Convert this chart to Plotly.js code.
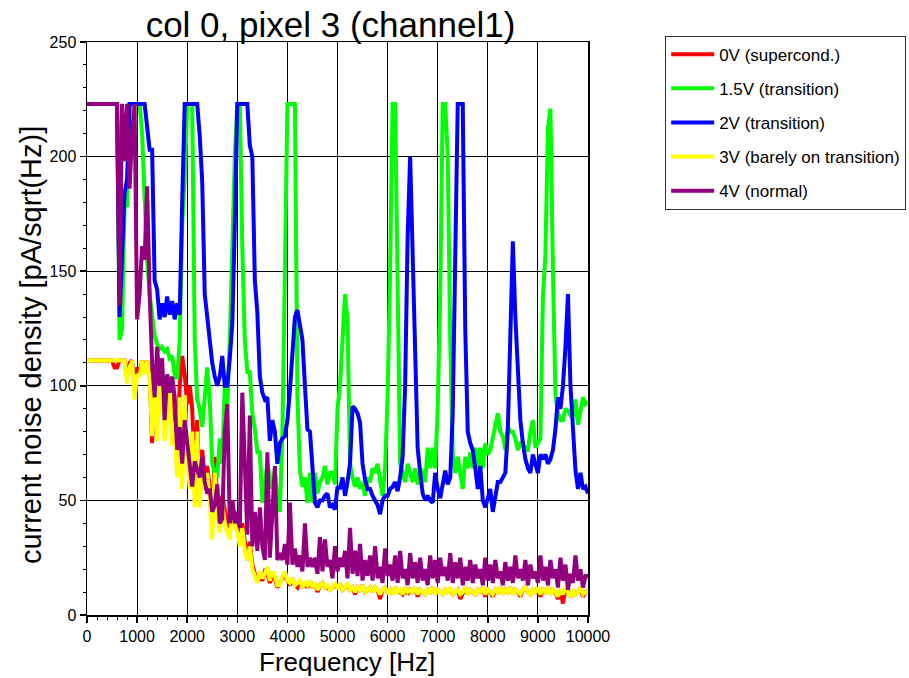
<!DOCTYPE html>
<html>
<head>
<meta charset="utf-8">
<script src="https://cdn.plot.ly/plotly-3.0.1.min.js"></script>
<style>html,body{margin:0;padding:0;background:#fff;}#chart{width:909px;height:678px;}</style>
</head>
<body>
<div id="chart"></div>
<script>
const freq = [
0,50,100,150,200,250,300,350,400,450,
500,550,600,650,700,750,800,850,900,950,
1000,1050,1100,1150,1200,1250,1300,1350,1400,1450,
1500,1550,1600,1650,1700,1750,1800,1850,1900,1950,
2000,2050,2100,2150,2200,2250,2300,2350,2400,2450,
2500,2550,2600,2650,2700,2750,2800,2850,2900,2950,
3000,3050,3100,3150,3200,3250,3300,3350,3400,3450,
3500,3550,3600,3650,3700,3750,3800,3850,3900,3950,
4000,4050,4100,4150,4200,4250,4300,4350,4400,4450,
4500,4550,4600,4650,4700,4750,4800,4850,4900,4950,
5000,5050,5100,5150,5200,5250,5300,5350,5400,5450,
5500,5550,5600,5650,5700,5750,5800,5850,5900,5950,
6000,6050,6100,6150,6200,6250,6300,6350,6400,6450,
6500,6550,6600,6650,6700,6750,6800,6850,6900,6950,
7000,7050,7100,7150,7200,7250,7300,7350,7400,7450,
7500,7550,7600,7650,7700,7750,7800,7850,7900,7950,
8000,8050,8100,8150,8200,8250,8300,8350,8400,8450,
8500,8550,8600,8650,8700,8750,8800,8850,8900,8950,
9000,9050,9100,9150,9200,9250,9300,9350,9400,9450,
9500,9550,9600,9650,9700,9750,9800,9850,9900,9950,
10000];

const v0_supercond = [
111,111,111,111,111,111,111,111,111,111,
111,108,108,111,111,111,103,110,111,98,
108,106,111,108,111,106,75,108,85,107,
95,80,90,104,85,90,75,100,113,105,
92,100,90,60,85,52,72,60,65,55,
40,69,50,42,52,45,40,38,50,42,
38,33,40,30,24,32,22,18,15,17,
15,19,18,14,17,16,12,14,16,17,
15,13,16,13,12,15,12,14,12,15,
12,14,10,13,14,12,12,11,12,13,
12,13,11,12,13,11,12,9,12,11,
13,10,11,12,10,12,11,7,11,12,
10,11,9,12,10,10,9,12,9,11,
10,12,8,11,10,9,11,10,12,9,
11,10,9,11,10,11,9,10,11,7,
10,12,9,11,10,9,11,10,12,8,
11,10,8,11,10,12,9,11,10,12,
9,11,10,8,11,12,10,9,11,10,
12,8,11,10,12,9,11,10,7,11,
5,12,10,8,11,9,10,12,8,10,
11];

const v15_transition = [
223,223,223,223,223,223,223,223,223,223,
223,223,223,120,125,180,178,223,223,223,
223,223,210,185,155,140,130,122,118,116,
117,115,116,112,113,105,103,120,170,190,
223,223,223,120,94,90,82,95,108,94,
66,62,60,77,66,100,91,120,160,200,
223,223,160,120,106,106,88,81,71,71,
49,58,66,60,55,63,50,45,80,150,
223,223,223,223,95,63,56,60,49,62,
49,62,53,58,60,65,57,62,62,57,
90,100,120,140,128,66,60,56,60,55,
58,52,60,58,64,62,66,58,52,64,
95,150,223,223,150,66,62,58,66,62,
58,64,57,64,62,58,73,64,73,64,
90,140,223,223,200,120,70,62,69,62,
55,69,64,71,64,73,64,73,64,75,
70,72,77,83,88,80,78,72,82,80,
80,77,72,75,75,72,72,80,85,73,
75,77,139,157,212,221,150,96,88,85,
85,90,89,87,87,94,83,90,95,92,
93];

const v2_transition = [
223,223,223,223,223,223,223,223,223,223,
223,223,223,130,160,184,190,223,223,223,
223,223,223,223,213,203,203,146,142,129,
136,130,139,131,137,129,136,131,180,223,
223,223,223,223,223,209,189,140,130,122,
110,104,100,104,113,100,100,112,127,170,
223,223,223,223,223,205,200,146,132,104,
97,94,95,76,85,80,66,75,77,78,
85,98,115,130,133,125,120,100,81,80,
63,49,47,50,50,52,53,47,48,46,
56,55,60,52,58,66,91,90,88,84,
66,59,55,55,52,50,48,44,50,52,
52,55,56,58,54,60,69,100,165,200,
160,110,73,62,53,50,52,50,49,62,
55,51,57,63,57,60,88,160,223,223,
223,125,80,75,72,64,55,65,50,47,
51,55,45,52,58,58,60,62,81,120,
163,130,110,85,75,68,64,62,70,66,
62,70,68,70,66,68,72,81,95,90,
100,117,140,100,81,63,55,62,55,56,
53];

const v3_barely = [
111,111,111,111,111,111,111,111,111,111,
111,111,111,111,111,111,101,108,111,94,
105,104,111,105,111,104,78,106,76,105,
90,76,86,100,74,80,60,95,55,96,
70,55,80,47,80,47,67,56,62,50,
33,62,45,36,49,40,36,33,48,40,
36,30,38,28,24,30,20,17,14,19,
16,18,21,15,19,17,13,13,17,19,
15,14,16,13,14,15,12,14,13,15,
12,14,11,13,14,12,13,11,12,14,
12,13,11,12,14,11,12,10,12,11,
13,10,11,12,10,12,11,9,11,12,
10,11,9,12,10,11,9,12,10,11,
10,12,9,11,10,9,11,10,12,9,
11,10,9,11,10,12,9,10,11,9,
10,12,9,11,10,9,11,10,12,9,
11,10,9,11,10,12,9,11,10,12,
9,11,10,9,11,12,10,9,11,10,
12,9,11,10,12,9,11,10,8,11,
9,12,10,8,11,9,10,12,9,10,
11];

const v4_normal = [
223,223,223,223,223,223,223,223,223,223,
223,223,223,135,223,198,223,186,210,223,
129,140,161,155,187,140,110,95,117,100,
112,85,105,97,104,95,72,82,66,85,
75,62,56,67,63,60,69,58,53,55,
45,48,57,40,42,80,92,40,50,40,
45,38,97,60,35,87,30,45,28,47,
30,24,71,25,45,65,24,27,24,31,
22,49,22,29,21,26,19,40,21,25,
21,25,18,34,19,33,21,24,16,30,
19,25,21,28,16,38,18,28,17,31,
15,24,17,26,15,30,16,21,14,29,
17,22,15,26,14,28,16,20,13,27,
16,23,14,25,15,20,13,26,16,24,
14,25,17,21,15,27,14,23,16,25,
13,21,15,24,14,22,16,20,13,25,
15,22,14,24,16,19,13,23,15,21,
14,26,16,20,15,24,13,22,16,19,
14,26,15,21,13,24,16,20,12,25,
15,22,11,18,14,26,15,20,12,17,
17];

const seriesNames = ["0V (supercond.)", "1.5V (transition)", "2V (transition)", "3V (barely on transition)", "4V (normal)"];
const seriesValues = [v0_supercond, v15_transition, v2_transition, v3_barely, v4_normal];
const seriesColors = ["#ff0000", "#00ff00", "#0000ff", "#ffff00", "#93007f"];

const traces = seriesNames.map((name, i) => ({
  type: "scatter",
  mode: "lines",
  x: freq,
  y: seriesValues[i],
  name: name,
  legendgroup: "g" + i,
  line: {color: seriesColors[i], width: 4},
  hoverinfo: "skip"
}));

const FONT = "Arial, 'Liberation Sans', sans-serif";

const layout = {
  width: 909,
  height: 678,
  margin: {l: 87, r: 321, t: 42, b: 63, pad: 0, autoexpand: false},
  paper_bgcolor: "#ffffff",
  plot_bgcolor: "#ffffff",
  font: {family: FONT, color: "#000000", size: 16},
  showlegend: true,
  title: {
    text: "col 0, pixel 3 (channel1)",
    font: {family: FONT, size: 35, color: "#000"},
    x: 0.486, xref: "paper", xanchor: "center",
    y: 0.963, yref: "container", yanchor: "middle"
  },
  xaxis: {
    range: [0, 10000],
    tick0: 0, dtick: 1000, tickformat: "d",
    ticks: "outside", ticklen: 6, tickwidth: 1.5, tickcolor: "#000",
    tickfont: {family: FONT, size: 16, color: "#000"},
    showgrid: true, gridcolor: "#000", gridwidth: 1,
    showline: true, mirror: true, linecolor: "#000", linewidth: 1.5,
    zeroline: false,
    minor: {dtick: 200, ticks: "outside", ticklen: 3, tickwidth: 1, tickcolor: "#000", showgrid: false}
  },
  yaxis: {
    range: [0, 250],
    tick0: 0, dtick: 50, tickformat: "d",
    ticks: "outside", ticklen: 6, tickwidth: 1.5, tickcolor: "#000",
    tickfont: {family: FONT, size: 16, color: "#000"},
    showgrid: true, gridcolor: "#000", gridwidth: 1,
    showline: true, mirror: true, linecolor: "#000", linewidth: 1.5,
    zeroline: false,
    minor: {dtick: 10, ticks: "outside", ticklen: 3, tickwidth: 1, tickcolor: "#000", showgrid: false}
  },
  annotations: [{
    text: "Frequency [Hz]",
    xref: "paper", yref: "paper",
    x: 0.519, y: 0,
    xanchor: "center", yanchor: "middle",
    yshift: -47,
    showarrow: false,
    font: {family: FONT, size: 26, color: "#000"}
  }, {
    text: "current noise density [pA/sqrt(Hz)]",
    xref: "paper", yref: "paper",
    x: 0, y: 0.471,
    xanchor: "center", yanchor: "middle",
    xshift: -56,
    textangle: -90,
    showarrow: false,
    font: {family: FONT, size: 29, color: "#000"}
  }],
  legend: {
    x: 1.154, xanchor: "left",
    y: 1.011, yanchor: "top",
    bordercolor: "#333", borderwidth: 1,
    bgcolor: "#fff",
    font: {family: FONT, size: 17, color: "#000"},
    traceorder: "grouped",
    tracegroupgap: 9,
    itemwidth: 43
  }
};

Plotly.newPlot("chart", traces, layout, {displayModeBar: false, staticPlot: true});
</script>
</body>
</html>
